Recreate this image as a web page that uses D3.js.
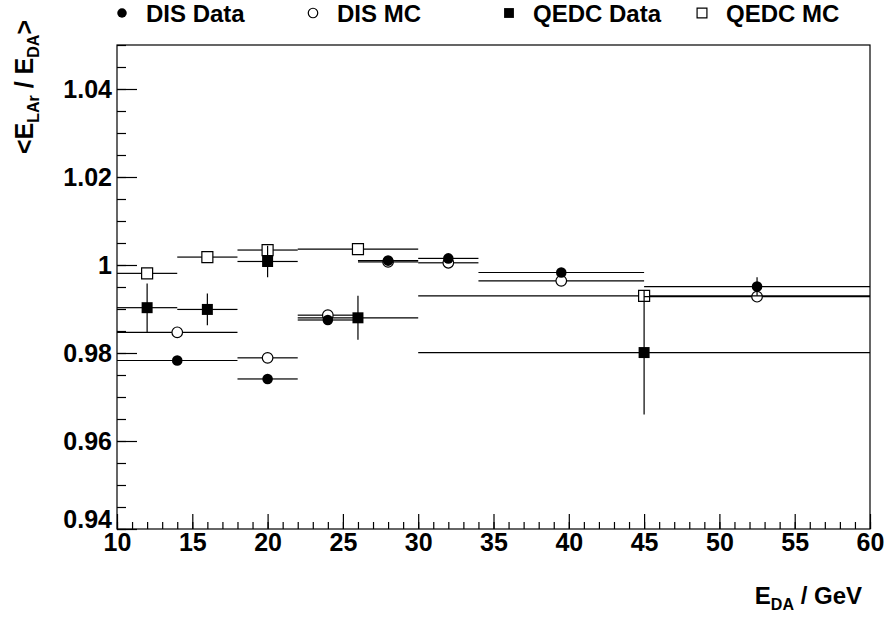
<!DOCTYPE html>
<html>
<head>
<meta charset="utf-8">
<script src="https://cdn.jsdelivr.net/npm/d3@7/dist/d3.min.js"></script>
<style>
	body { margin: 0; background: #fff; }
	svg text { font-family: "Liberation Sans", Arial, Helvetica, sans-serif; font-weight: bold; fill: #000; }
</style>
</head>
<body>
<div id="chart"></div>
<script>
// DIS sample: bin centres, bin edges and <E_LAr/E_DA> per bin
var disX = [14, 20, 24, 28, 32, 39.5, 52.5];
var disLo = [10, 18, 22, 26, 30, 34, 45];
var disHi = [18, 22, 26, 30, 34, 45, 60];
var disData = [0.9783, 0.9741, 0.9875, 1.0010, 1.0015, 0.9983, 0.9951];
var disDataErr = [0.0004, 0.0004, 0.0004, 0.0004, 0.0004, 0.0005, 0.0021];
var disMC = [0.9847, 0.9789, 0.9886, 1.0007, 1.0005, 0.9964, 0.9928];
var disMCErr = [0.0003, 0.0003, 0.0003, 0.0003, 0.0003, 0.0003, 0.0003];

// QED Compton sample
var qedcX = [12, 16, 20, 26, 45];
var qedcLo = [10, 14, 18, 22, 30];
var qedcHi = [14, 18, 22, 30, 60];
var qedcData = [0.9903, 0.9899, 1.0008, 0.9880, 0.9801];
var qedcDataErr = [0.0055, 0.0036, 0.0036, 0.0050, 0.0141];
var qedcMC = [0.9981, 1.0018, 1.0034, 1.0036, 0.9930];
var qedcMCErr = [0.0003, 0.0003, 0.0003, 0.0003, 0.0003];

var legendLabels = ["DIS Data", "DIS MC", "QEDC Data", "QEDC MC"];
var xTicks = [10, 15, 20, 25, 30, 35, 40, 45, 50, 55, 60];
var yTicks = [0.94, 0.96, 0.98, 1.00, 1.02, 1.04];
var yTickLabels = ["0.94", "0.96", "0.98", "1", "1.02", "1.04"];

var width = 887, height = 626;
var margin = {top: 45, right: 17, bottom: 97, left: 117};

var svg = d3.select("#chart")
	.append("svg")
	.attr("width", width)
	.attr("height", height);

var x = d3.scaleLinear()
	.domain([10, 60])
	.range([margin.left, width - margin.right]);

var y = d3.scaleLinear()
	.domain([0.94, 1.05])
	.range([height - margin.bottom, margin.top]);

// frame
svg.append("rect")
	.attr("x", x(10))
	.attr("y", y(1.05))
	.attr("width", x(60) - x(10))
	.attr("height", y(0.94) - y(1.05))
	.attr("fill", "none")
	.attr("stroke", "#000")
	.attr("stroke-width", 1.2);

// x axis: minor ticks every 1, major every 5, all pointing inwards
svg.append("g")
	.attr("class", "axis")
	.attr("transform", "translate(0," + y(0.94) + ")")
	.call(d3.axisBottom(x).tickValues(d3.range(10, 61, 1)).tickSize(-7).tickFormat(""));

svg.append("g")
	.attr("class", "axis xlab")
	.attr("transform", "translate(0," + y(0.94) + ")")
	.call(d3.axisBottom(x).tickValues(xTicks).tickSize(-15).tickPadding(4)
		.tickFormat(function(d) { return d; }));

// y axis: minor ticks every 0.005, labelled ones every 0.02
svg.append("g")
	.attr("class", "axis")
	.attr("transform", "translate(" + x(10) + ",0)")
	.call(d3.axisLeft(y).tickValues(d3.range(0, 23).map(function(i) { return 0.94 + i * 0.005; }))
		.tickSize(-9).tickFormat(""));

svg.append("g")
	.attr("class", "axis ylab")
	.attr("transform", "translate(" + x(10) + ",0)")
	.call(d3.axisLeft(y).tickValues(yTicks).tickSize(-20).tickPadding(5)
		.tickFormat(function(d, i) { return yTickLabels[i]; }));

svg.selectAll(".axis .domain").remove();
svg.selectAll(".axis line").attr("stroke", "#000").attr("stroke-width", 1.2);
svg.selectAll(".axis text").attr("font-size", 25).attr("fill", "#000")
	.style("font-family", "'Liberation Sans', Arial, sans-serif").style("font-weight", "bold");
// lowest y label sits a little above its tick
svg.selectAll(".ylab .tick text").attr("dy", function(d) { return d === 0.94 ? "-0.05em" : "0.32em"; });

// one graph = horizontal bin bars, vertical error bars and markers
var circleSize = Math.PI * 5.3 * 5.3;
var squareSize = 11 * 11;

function drawGraph(xs, lo, hi, ys, errs, symbol, size, filled) {
	var g = svg.append("g");
	var half = 0;
	if (!filled) half = symbol === d3.symbolCircle ? Math.sqrt(size / Math.PI) : Math.sqrt(size) / 2;
	var pts = xs.map(function(d, i) {
		return {x: d, lo: lo[i], hi: hi[i], y: ys[i], err: errs[i]};
	});
	var segs = [];
	pts.forEach(function(p) {
		var cx = x(p.x), cy = y(p.y);
		segs.push([x(p.lo), cy, cx - half, cy]);
		segs.push([cx + half, cy, x(p.hi), cy]);
		if (y(p.y - p.err) - cy > half) {
			segs.push([cx, y(p.y + p.err), cx, cy - half]);
			segs.push([cx, cy + half, cx, y(p.y - p.err)]);
		}
	});
	g.selectAll("line")
		.data(segs)
		.enter()
		.append("line")
		.attr("x1", function(d) { return d[0]; })
		.attr("y1", function(d) { return d[1]; })
		.attr("x2", function(d) { return d[2]; })
		.attr("y2", function(d) { return d[3]; })
		.attr("stroke", "#000")
		.attr("stroke-width", 1.2);
	g.selectAll("path")
		.data(pts)
		.enter()
		.append("path")
		.attr("transform", function(d) { return "translate(" + x(d.x) + "," + y(d.y) + ")"; })
		.attr("d", d3.symbol().type(symbol).size(size))
		.attr("fill", filled ? "#000" : "none")
		.attr("stroke", "#000")
		.attr("stroke-width", filled ? 0 : 1.2);
}

drawGraph(disX, disLo, disHi, disMC, disMCErr, d3.symbolCircle, circleSize, false);
drawGraph(disX, disLo, disHi, disData, disDataErr, d3.symbolCircle, circleSize, true);
drawGraph(qedcX, qedcLo, qedcHi, qedcMC, qedcMCErr, d3.symbolSquare, squareSize, false);
drawGraph(qedcX, qedcLo, qedcHi, qedcData, qedcDataErr, d3.symbolSquare, squareSize, true);

// legend along the top
var legendX = [122, 313, 509, 702];
var legendSymbols = [d3.symbolCircle, d3.symbolCircle, d3.symbolSquare, d3.symbolSquare];
var legendFilled = [true, false, true, false];
var legend = svg.append("g");
legendLabels.forEach(function(label, i) {
	legend.append("path")
		.attr("transform", "translate(" + legendX[i] + ",13)")
		.attr("d", d3.symbol().type(legendSymbols[i]).size(i < 2 ? circleSize * 0.8 : squareSize * 0.8)())
		.attr("fill", legendFilled[i] ? "#000" : "none")
		.attr("stroke", "#000")
		.attr("stroke-width", legendFilled[i] ? 0 : 1.2);
	legend.append("text")
		.attr("x", legendX[i] + 24)
		.attr("y", 22)
		.attr("font-size", 24)
		.text(label);
});

// axis titles
var ytitle = svg.append("text")
	.attr("transform", "translate(33,20) rotate(-90)")
	.attr("text-anchor", "end")
	.attr("font-size", 25);
ytitle.append("tspan").text("<E");
ytitle.append("tspan").attr("font-size", 16).attr("dy", 6).text("LAr");
ytitle.append("tspan").attr("dy", -6).text(" / E");
ytitle.append("tspan").attr("font-size", 16).attr("dy", 6).text("DA");
ytitle.append("tspan").attr("dy", -6).text(">");

var xtitle = svg.append("text")
	.attr("x", 862)
	.attr("y", 604)
	.attr("text-anchor", "end")
	.attr("font-size", 24);
xtitle.append("tspan").text("E");
xtitle.append("tspan").attr("font-size", 16).attr("dy", 6).text("DA");
xtitle.append("tspan").attr("dy", -6).text(" / GeV");
</script>
</body>
</html>
